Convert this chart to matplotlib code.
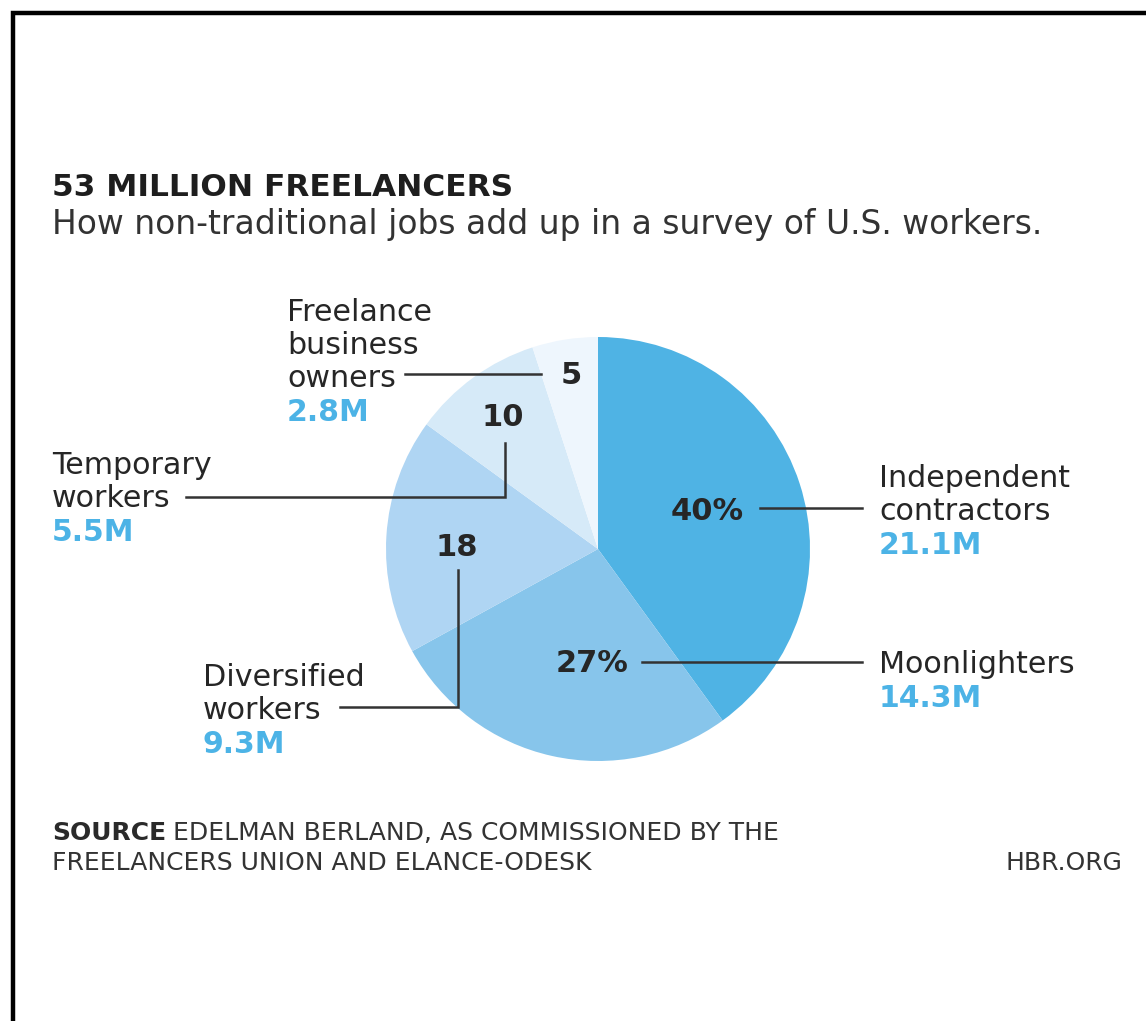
import matplotlib
matplotlib.use("Agg")
import matplotlib.pyplot as plt

# freelancer survey breakdown (clockwise from 12 o'clock)
segments = ["Independent\ncontractors", "Moonlighters", "Diversified\nworkers",
            "Temporary\nworkers", "Freelance\nbusiness\nowners"]
shares = [40, 27, 18, 10, 5]
share_labels = ["40%", "27%", "18", "10", "5"]
millions = [21.1, 14.3, 9.3, 5.5, 2.8]
colors = ["#4fb3e4", "#87c5eb", "#afd5f3", "#d6eaf8", "#eef6fd"]

W, H = 1146, 1021
FONT = "DejaVu Sans"
DARK = "#262626"
BLUE = "#4cb3e6"


def Y(y):
    # canvas is laid out top-down
    return H - y


fig = plt.figure(figsize=(W / 100, H / 100), dpi=100)
ax = fig.add_axes([0, 0, 1, 1])

# frame: only top and left edges are visible
ax.plot([13, 13, W], [Y(H), Y(13), Y(13)], color="black", lw=3.2, solid_joinstyle="miter")

ax.text(52, Y(196), "53 MILLION FREELANCERS", fontsize=22.5, fontweight="bold",
        family=FONT, color="#1e1e1e", va="baseline")
ax.text(52, Y(234), "How non-traditional jobs add up in a survey of U.S. workers.",
        fontsize=23.7, family=FONT, color="#333333", va="baseline")

cx, cy, r = 598, 549, 212
ax.pie(shares, colors=colors, startangle=90, counterclock=False,
       center=(cx, Y(cy)), radius=r, wedgeprops=dict(linewidth=0),
       frame=True)
ax.set_xlim(0, W)
ax.set_ylim(0, H)
ax.set_aspect("equal")
ax.axis("off")

# numbers inside the pie
inner_pos = [(707, 511), (592, 663), (457, 547), (503, 418), (571, 375)]
for (x, y), lab in zip(inner_pos, share_labels):
    ax.text(x, Y(y), lab, fontsize=22, fontweight="bold", family=FONT,
            color=DARK, ha="center", va="center")

# leader lines
leaders = [
    [(760, 508), (862, 508)],
    [(642, 662), (862, 662)],
    [(340, 707), (458, 707), (458, 570)],
    [(186, 497), (505, 497), (505, 443)],
    [(405, 374), (541, 374)],
]
for pts in leaders:
    xs = [p[0] for p in pts]
    ys = [Y(p[1]) for p in pts]
    ax.plot(xs, ys, color="#333333", lw=1.8, solid_joinstyle="miter")

# outside labels: left x, first baseline
label_pos = [(879, 487), (879, 673), (203, 686), (52, 474), (287, 321)]
line_h = 33
for (x, y), name, val in zip(label_pos, segments, millions):
    lines = name.split("\n")
    for i, line in enumerate(lines):
        ax.text(x, Y(y + i * line_h), line, fontsize=21.7, family=FONT,
                color=DARK, va="baseline")
    ax.text(x, Y(y + len(lines) * line_h + 1), f"{val}M", fontsize=21.5,
            fontweight="bold", family=FONT, color=BLUE, va="baseline")

# source note
NARROW = ["Liberation Sans Narrow", "DejaVu Sans"]
src = ax.text(52, Y(840), "SOURCE", fontsize=18, fontweight="bold",
              family=NARROW, color="#2a2a2a", va="baseline")
fig.canvas.draw()
bb = src.get_window_extent()
ax.text(bb.x1 + 7, Y(840), "EDELMAN BERLAND, AS COMMISSIONED BY THE",
        fontsize=18, family=NARROW, color="#333333", va="baseline")
ax.text(52, Y(870), "FREELANCERS UNION AND ELANCE-ODESK", fontsize=18,
        family=NARROW, color="#333333", va="baseline")
ax.text(1122, Y(870), "HBR.ORG", fontsize=18, family=NARROW,
        color="#333333", va="baseline", ha="right")

fig.savefig("out.png", dpi=100, facecolor="white")
